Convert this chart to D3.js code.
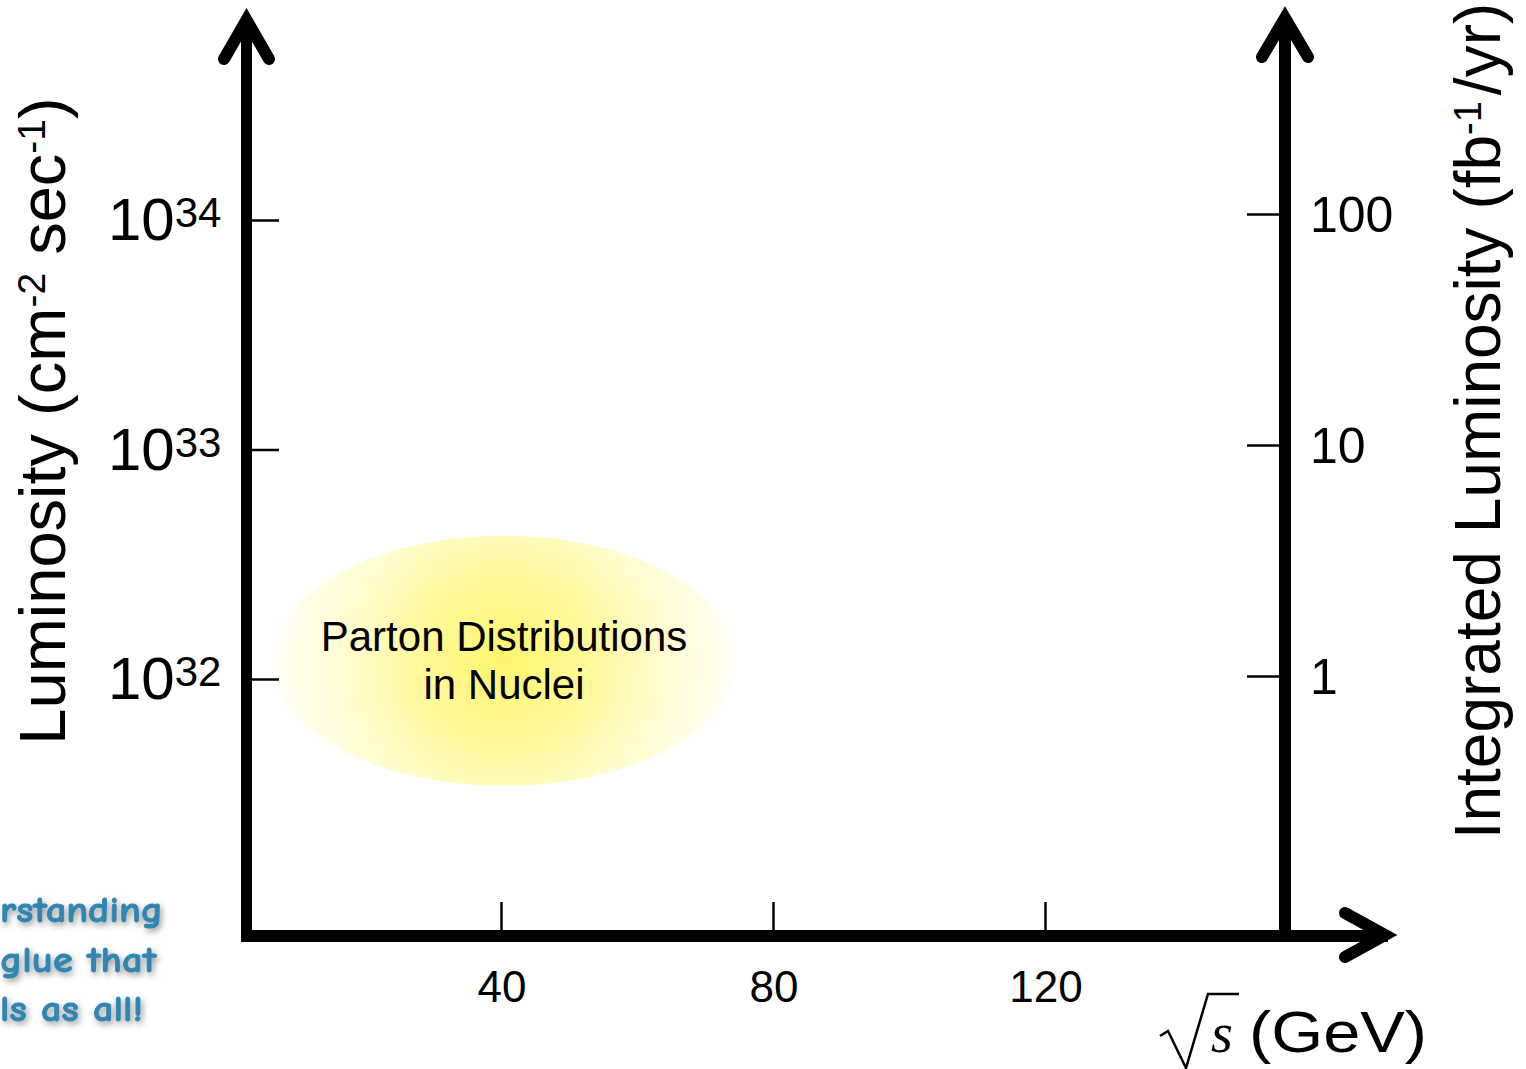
<!DOCTYPE html>
<html>
<head>
<meta charset="utf-8">
<script src="https://cdn.jsdelivr.net/npm/d3@7"></script>
<style>
  html, body { margin: 0; padding: 0; background: #ffffff; overflow: hidden; }
  svg { display: block; }
</style>
</head>
<body>
<div id="chart"></div>
<script>
// ---- data ----
const energyTicks = [40, 80, 120];                 // sqrt(s) in GeV
const lumiTicks = [1e32, 1e33, 1e34];              // instantaneous luminosity, cm^-2 s^-1
const lumiExponents = ["32", "33", "34"];
const intLumiTicks = [1, 10, 100];                 // integrated luminosity fb^-1/yr
const intLumiLabels = ["1", "10", "100"];
const regionName = ["Parton Distributions", "in Nuclei"];
const regionCenter = { energy: 40, lumi: 1.2e32 };
const sideNote = ["rstanding", "glue that", "ls as all!"];

const W = 1526, H = 1069;
const svg = d3.select("#chart").append("svg").attr("width", W).attr("height", H);
svg.append("rect").attr("width", W).attr("height", H).attr("fill", "#fff");

const defs = svg.append("defs");

// scales
const x = d3.scaleLinear().domain([0, 160]).range([229, 229 + 6.8 * 160]);
const yL = d3.scaleLog().domain([1e32, 1e34]).range([679, 220]);
const yR = d3.scaleLog().domain([1, 100]).range([676, 214]);

const font = "Arial, 'Liberation Sans', Helvetica, sans-serif";

// ---- highlighted region ----
const cx = x(regionCenter.energy) + 3, cy = yL(regionCenter.lumi);
const grad = defs.append("radialGradient").attr("id", "glow")
  .attr("gradientUnits", "userSpaceOnUse")
  .attr("cx", cx).attr("cy", cy).attr("r", 245);
grad.append("stop").attr("offset", 0).attr("stop-color", "#fff56e");
grad.append("stop").attr("offset", 0.35).attr("stop-color", "#fff89a");
grad.append("stop").attr("offset", 0.6).attr("stop-color", "#fffcc8");
grad.append("stop").attr("offset", 1).attr("stop-color", "#ffffff");
svg.append("ellipse").attr("cx", cx).attr("cy", cy).attr("rx", 232).attr("ry", 125)
  .attr("fill", "url(#glow)");
svg.append("text").attr("x", cx).attr("y", cy - 10)
  .attr("text-anchor", "middle").attr("font-family", font).attr("font-size", 42)
  .attr("fill", "#000").text(regionName[0]);
svg.append("text").attr("x", cx).attr("y", cy + 38)
  .attr("text-anchor", "middle").attr("font-family", font).attr("font-size", 42)
  .attr("fill", "#000").text(regionName[1]);

// ---- tick axes ----
const gL = svg.append("g").attr("transform", "translate(252,0)")
  .call(d3.axisRight(yL).tickValues(lumiTicks).tickSize(27).tickFormat(""));
const gR = svg.append("g").attr("transform", "translate(1280,0)")
  .call(d3.axisLeft(yR).tickValues(intLumiTicks).tickSize(33).tickFormat(""));
const gB = svg.append("g").attr("transform", "translate(0,930)")
  .call(d3.axisTop(x).tickValues(energyTicks).tickSize(28).tickFormat(""));
[gL, gR, gB].forEach(g => {
  g.select(".domain").remove();
  g.selectAll(".tick line").attr("stroke", "#000").attr("stroke-width", 2.5);
});

// left tick labels 10^n
lumiTicks.forEach((v, i) => {
  const t = svg.append("text").attr("x", 108).attr("y", yL(v) + 20)
    .attr("font-family", font).attr("fill", "#000");
  t.append("tspan").attr("font-size", 60).text("10");
  t.append("tspan").attr("font-size", 42).attr("dy", -13).text(lumiExponents[i]);
});
// right tick labels
intLumiTicks.forEach((v, i) => {
  svg.append("text").attr("x", 1310).attr("y", yR(v) + 18)
    .attr("font-family", font).attr("font-size", 50).attr("fill", "#000")
    .text(intLumiLabels[i]);
});
// bottom tick labels
energyTicks.forEach(v => {
  svg.append("text").attr("x", x(v) + 1).attr("y", 1002)
    .attr("text-anchor", "middle").attr("font-family", font).attr("font-size", 44)
    .attr("fill", "#000").text(v);
});

// ---- thick axis lines with arrowheads ----
const axisStyle = sel => sel.attr("fill", "none").attr("stroke", "#000");
axisStyle(svg.append("line").attr("x1", 246.5).attr("y1", 942).attr("x2", 246.5).attr("y2", 22))
  .attr("stroke-width", 11);
axisStyle(svg.append("line").attr("x1", 1285).attr("y1", 936).attr("x2", 1285).attr("y2", 20))
  .attr("stroke-width", 12);
axisStyle(svg.append("line").attr("x1", 241).attr("y1", 936).attr("x2", 1388).attr("y2", 936))
  .attr("stroke-width", 12);
const arrow = pts => axisStyle(svg.append("path").attr("d", d3.line()(pts)))
  .attr("stroke-width", 12).attr("stroke-linecap", "round").attr("stroke-linejoin", "miter");
arrow([[224, 59], [246.5, 20], [269, 59]]);
arrow([[1262, 57], [1285, 18], [1308, 57]]);
arrow([[1345, 913], [1385, 935], [1345, 957]]);

// ---- axis titles ----
const lt = svg.append("text").attr("transform", "translate(65,421) rotate(-90)")
  .attr("text-anchor", "middle").attr("font-family", font).attr("font-size", 65).attr("fill", "#000");
lt.append("tspan").text("Luminosity (cm");
lt.append("tspan").attr("font-size", 39).attr("dy", -20).text("-2");
lt.append("tspan").attr("dy", 20).text(" sec");
lt.append("tspan").attr("font-size", 39).attr("dy", -20).text("-1");
lt.append("tspan").attr("dy", 20).text(")");

const rt = svg.append("text").attr("transform", "translate(1500,421) rotate(-90)")
  .attr("text-anchor", "middle").attr("font-family", font).attr("font-size", 64).attr("fill", "#000");
rt.append("tspan").text("Integrated Luminosity (fb");
rt.append("tspan").attr("font-size", 38).attr("dy", -19).text("-1");
rt.append("tspan").attr("dy", 19).attr("dx", 6).text("/yr)");

// sqrt(s) (GeV)
svg.append("path")
  .attr("d", "M1160,1036 L1168,1031 L1186,1068 L1208,994 L1239,994")
  .attr("fill", "none").attr("stroke", "#000").attr("stroke-width", 2.5)
  .attr("stroke-linejoin", "miter");
svg.append("text").attr("x", 1211).attr("y", 1052)
  .attr("font-family", "'Liberation Serif', 'Times New Roman', serif")
  .attr("font-style", "italic").attr("font-size", 56).attr("fill", "#000").text("s");
svg.append("text").attr("x", 1249).attr("y", 1052)
  .attr("font-family", font).attr("font-size", 58).attr("fill", "#000")
  .attr("textLength", 178).attr("lengthAdjust", "spacingAndGlyphs").text("(GeV)");

// ---- side note (partially off-canvas) ----
const f = defs.append("filter").attr("id", "shadow")
  .attr("x", "-20%").attr("y", "-40%").attr("width", "140%").attr("height", "180%");
f.append("feDropShadow").attr("dx", 2).attr("dy", 3).attr("stdDeviation", 3)
  .attr("flood-color", "#777").attr("flood-opacity", 0.75);
const noteEnds = [163, 156, 143];
const noteBase = [922, 972, 1021];
sideNote.forEach((s, i) => {
  svg.append("text").attr("x", 0).attr("y", noteBase[i])
    .attr("font-family", "'Comic Sans MS', 'Comic Neue', Lato, 'DejaVu Sans', sans-serif")
    .attr("font-weight", "900").attr("font-size", 37).attr("fill", "#2f86b2")
    .attr("stroke", "#2f86b2").attr("stroke-width", 0.8)
    .attr("textLength", noteEnds[i]).attr("lengthAdjust", "spacingAndGlyphs")
    .attr("filter", "url(#shadow)").text(s);
});
</script>
</body>
</html>
